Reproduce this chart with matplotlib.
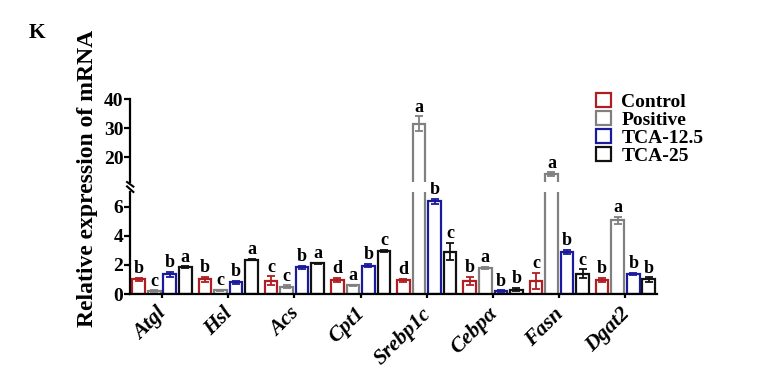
import matplotlib
matplotlib.use("Agg")
import matplotlib.pyplot as plt
import matplotlib.transforms as mtransforms
import numpy as np
from matplotlib.patches import Patch

plt.rcParams['font.family'] = ['Liberation Serif', 'DejaVu Serif']
plt.rcParams['font.weight'] = 'bold'

genes = ['Atgl', 'Hsl', 'Acs', 'Cpt1', 'Srebp1c', 'Cebpα', 'Fasn', 'Dgat2']
groups = ['Control', 'Positive', 'TCA-12.5', 'TCA-25']
colors = ['#b01e23', '#808080', '#1a1a9c', '#111111']

control = [1.0, 1.0, 0.92, 0.95, 0.95, 0.9, 0.9, 0.95]
positive = [0.2, 0.25, 0.5, 0.6, 31.5, 1.8, 14.2, 5.05]
tca125 = [1.35, 0.8, 1.85, 1.95, 6.35, 0.2, 2.9, 1.38]
tca25 = [1.85, 2.35, 2.1, 2.95, 2.9, 0.3, 1.4, 1.0]

control_err = [0.1, 0.2, 0.3, 0.15, 0.1, 0.3, 0.55, 0.15]
positive_err = [0.05, 0.03, 0.1, 0.05, 2.5, 0.05, 0.6, 0.25]
tca125_err = [0.15, 0.1, 0.1, 0.1, 0.2, 0.05, 0.15, 0.05]
tca25_err = [0.05, 0.05, 0.05, 0.1, 0.6, 0.1, 0.3, 0.15]

control_lbl = ['b', 'b', 'c', 'd', 'd', 'b', 'c', 'b']
positive_lbl = ['c', 'c', 'c', 'a', 'a', 'a', 'a', 'a']
tca125_lbl = ['b', 'b', 'b', 'b', 'b', 'b', 'b', 'b']
tca25_lbl = ['a', 'a', 'a', 'c', 'c', 'b', 'c', 'b']

values = [control, positive, tca125, tca25]
errors = [control_err, positive_err, tca125_err, tca25_err]
labels = [control_lbl, positive_lbl, tca125_lbl, tca25_lbl]

fig = plt.figure(figsize=(7.66, 3.80), dpi=100)
ax_lo = fig.add_axes([0.170, 0.2263, 0.688, 0.2684])
ax_hi = fig.add_axes([0.170, 0.5210, 0.688, 0.2184])

lo_lim = (0, 7)
hi_lim = (11.5, 40)

x = np.arange(len(genes))
pitch = 0.235
width = 0.19
offsets = (np.arange(4) - 1.5) * pitch

for ax in (ax_lo, ax_hi):
    for i in range(4):
        ax.bar(x + offsets[i], values[i], width=width, facecolor='white',
               edgecolor=colors[i], linewidth=1.6, zorder=2)
        ax.errorbar(x + offsets[i], values[i], yerr=errors[i], fmt='none',
                    ecolor=colors[i], elinewidth=1.3, capsize=3, capthick=1.3, zorder=3)
    ax.set_xlim(-0.48, len(genes) - 0.52)
    for s in ('top', 'right'):
        ax.spines[s].set_visible(False)
    ax.spines['left'].set_linewidth(1.6)
    ax.tick_params(axis='y', labelsize=14, width=1.6, length=4, pad=1)

ax_lo.set_ylim(*lo_lim)
ax_hi.set_ylim(*hi_lim)
ax_lo.set_yticks([0, 2, 4, 6])
ax_hi.set_yticks([20, 30, 40])
ax_hi.spines['bottom'].set_visible(False)
ax_hi.set_xticks([])
ax_lo.spines['bottom'].set_linewidth(1.6)
ax_lo.set_xticks(x)
ax_lo.set_xticklabels(genes, rotation=45, ha='right', rotation_mode='anchor',
                      fontsize=15.5, fontstyle='italic', fontweight='bold')
ax_lo.tick_params(axis='x', width=1.6, length=3, pad=4)
shift = mtransforms.ScaledTranslation(-4 / 72, 0, fig.dpi_scale_trans)
for lbl in ax_lo.get_xticklabels():
    lbl.set_transform(lbl.get_transform() + shift)

# letters
for i in range(4):
    for j in range(len(genes)):
        top = values[i][j] + errors[i][j]
        ax = ax_hi if values[i][j] > lo_lim[1] else ax_lo
        ax.annotate(labels[i][j], (x[j] + offsets[i], top), xytext=(0, 0.5),
                    textcoords='offset points', ha='center', va='bottom',
                    fontsize=13, fontweight='bold', zorder=4)

# break marks (slanting down to the right)
kw = dict(color='k', clip_on=False, linewidth=1.5)
ax_hi.plot((-0.006, 0.006), (0.0, -0.055), transform=ax_hi.transAxes, **kw)
ax_lo.plot((-0.006, 0.006), (1.055, 1.0), transform=ax_lo.transAxes, **kw)

fig.text(0.114, 0.53, 'Relative expression of mRNA', rotation=90, ha='center',
         va='center', fontsize=17, fontweight='bold')
fig.text(0.038, 0.912, 'K', fontsize=15.5, fontweight='bold', ha='left', va='center')

handles = [Patch(facecolor='white', edgecolor=c, linewidth=1.6) for c in colors]
fig.legend(handles, groups, loc='upper left', bbox_to_anchor=(0.778, 0.755),
           frameon=False, handlelength=0.75, handleheight=0.75,
           handletextpad=0.55, labelspacing=0.0, borderpad=0, borderaxespad=0,
           prop={'weight': 'bold', 'size': 14})

fig.savefig('out.png', dpi=100)
